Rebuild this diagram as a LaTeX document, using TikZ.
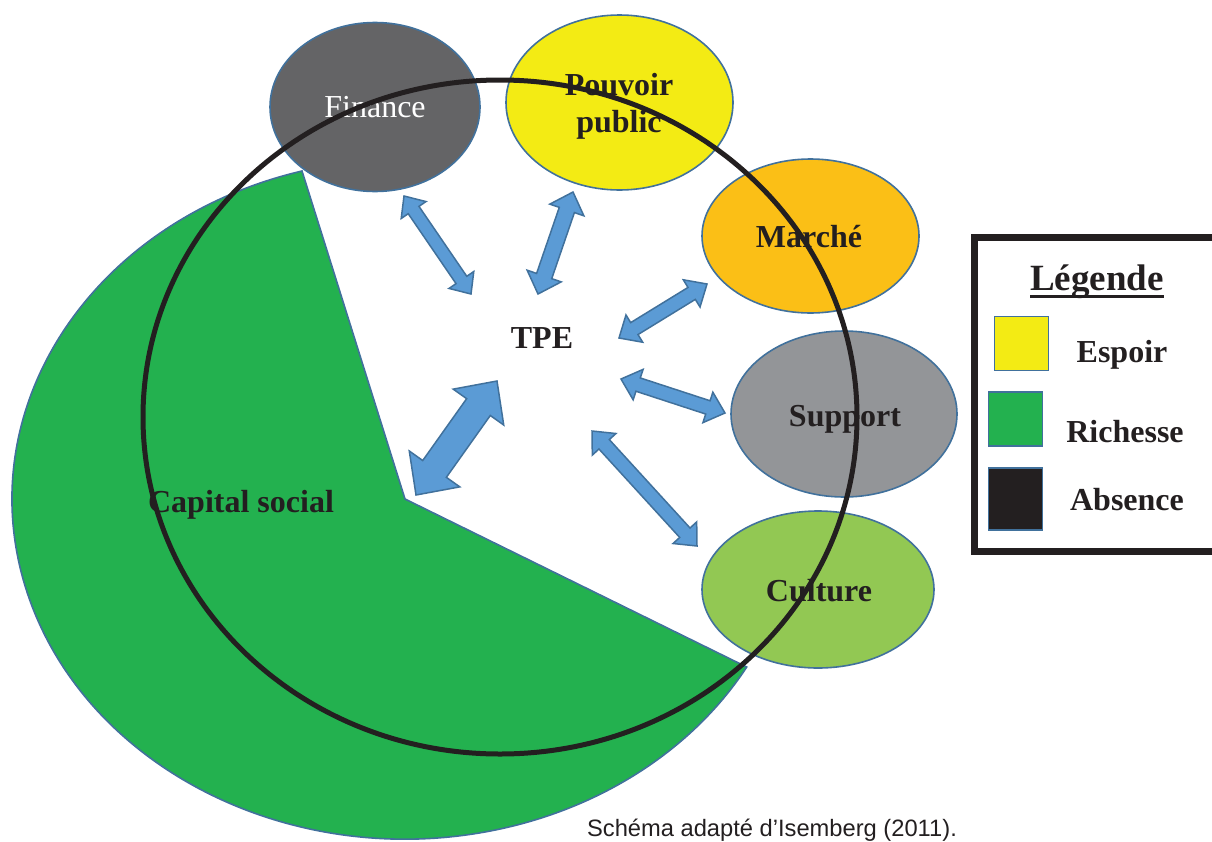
\documentclass[tikz,border=0pt]{standalone}
\usepackage{fontspec}
\setmainfont{Liberation Serif}
\newfontfamily\arialfont{Liberation Sans}
\usetikzlibrary{shapes.geometric,calc}
\definecolor{edgeblue}{HTML}{41719C}
\definecolor{arrowblue}{HTML}{5B9BD5}
\definecolor{inkblack}{HTML}{231F20}
\definecolor{financegray}{HTML}{646466}
\definecolor{pouvoiryellow}{HTML}{F3EB14}
\definecolor{marcheorange}{HTML}{FBBF16}
\definecolor{supportgray}{HTML}{939598}
\definecolor{culturegreen}{HTML}{92C853}
\definecolor{capitalgreen}{HTML}{23B14F}
\tikzset{
  bubble/.style={ellipse, draw=edgeblue, line width=1.6pt, inner sep=0pt},
  lbl/.style={anchor=base, inner sep=0pt, text=inkblack, font=\fontsize{32}{35}\selectfont\bfseries, align=center},
  blockarrow/.style={fill=arrowblue, draw=edgeblue, line width=1.5pt, line join=miter},
  legsq/.style={draw=edgeblue, line width=1.6pt, inner sep=0pt, minimum width=54pt, minimum height=54pt},
}
\newcommand\blockarrow[5]{%
  \coordinate (ba-h1) at ($(#1)!#5!(#2)$);
  \coordinate (ba-h2) at ($(#2)!#5!(#1)$);
  \draw[blockarrow] (#1) -- ($(ba-h1)!#4!90:(#2)$) -- ($(ba-h1)!#3!90:(#2)$)
    -- ($(ba-h2)!#3!-90:(#1)$) -- ($(ba-h2)!#4!-90:(#1)$) -- (#2)
    -- ($(ba-h2)!#4!90:(#1)$) -- ($(ba-h2)!#3!90:(#1)$)
    -- ($(ba-h1)!#3!-90:(#2)$) -- ($(ba-h1)!#4!-90:(#2)$) -- cycle;
}
\begin{document}
\begin{tikzpicture}[x=1pt,y=-1pt]
\useasboundingbox (0,0) rectangle (1212,841);
% green sector (capital social)
\coordinate (cs-vertex) at (405,499);
\coordinate (cs-top) at (302,171);
\draw[fill=capitalgreen, draw=edgeblue, line width=1.6pt]
  (cs-vertex) -- (cs-top) arc[start angle=254.8, end angle=29.6, x radius=393, y radius=340] -- cycle;
% ellipses
\node[bubble, fill=financegray, minimum width=210pt, minimum height=169pt] (finance) at (375,107) {};
\node[bubble, fill=pouvoiryellow, minimum width=227pt, minimum height=175pt] (pouvoir) at (619.5,102.5) {};
\node[bubble, fill=marcheorange, minimum width=217pt, minimum height=154pt] (marche) at (810.5,236) {};
\node[bubble, fill=supportgray, minimum width=226pt, minimum height=166pt] (support) at (844,414) {};
\node[bubble, fill=culturegreen, minimum width=232pt, minimum height=157pt] (culture) at (818,589.5) {};
% arrows
\coordinate (fa1) at (404,196); \coordinate (fa2) at (471,294);
\coordinate (pa1) at (573,192); \coordinate (pa2) at (538,294);
\coordinate (ma1) at (707,284); \coordinate (ma2) at (619,338);
\coordinate (sa1) at (621,379); \coordinate (sa2) at (725,413);
\coordinate (ca1) at (592,431); \coordinate (ca2) at (697,546);
\coordinate (ka1) at (497,381); \coordinate (ka2) at (416,495);
\blockarrow{fa1}{fa2}{6.5pt}{15pt}{17pt}
\blockarrow{pa1}{pa2}{8pt}{18pt}{19pt}
\blockarrow{ma1}{ma2}{7pt}{16pt}{18pt}
\blockarrow{sa1}{sa2}{7pt}{16pt}{18pt}
\blockarrow{ca1}{ca2}{7pt}{16pt}{18pt}
\blockarrow{ka1}{ka2}{14.5pt}{31pt}{32pt}
% labels
\node[lbl, text=white, font=\fontsize{32}{35}\selectfont] (financet) at (375,117) {Finance};
\node[lbl, font=\fontsize{32}{37}\selectfont\bfseries] (pouvoirt) at (619,132) {Pouvoir\\public};
\node[lbl] (marchet) at (809,247) {Marché};
\node[lbl] (supportt) at (845,426) {Support};
\node[lbl] (culturet) at (819,601) {Culture};
\node[lbl] (tpe) at (542,348) {TPE};
\node[lbl] (capital) at (241,512) {Capital social};
% big black circle
\draw[inkblack, line width=5pt] (500,417) ellipse [x radius=357, y radius=337];
% legend
\draw[inkblack, line width=7pt] (974.5,237.5) rectangle (1240,551.5);
\node[lbl, font=\fontsize{37}{40}\selectfont\bfseries] (legt) at (1097,290) {Légende};
\draw[inkblack, line width=3pt] ([yshift=-6pt]legt.base west) -- ([yshift=-6pt]legt.base east);
\node[legsq, fill=pouvoiryellow] (lg1) at (1021.5,343.5) {};
\node[legsq, fill=capitalgreen] (lg2) at (1015.5,419) {};
\node[legsq, fill=inkblack, minimum height=62pt] (lg3) at (1015.5,499) {};
\node[lbl] (lt1) at (1122,362) {Espoir};
\node[lbl] (lt2) at (1125,442) {Richesse};
\node[lbl] (lt3) at (1127,510) {Absence};
% caption
\node[anchor=base, inner sep=0pt, text=inkblack, font=\arialfont\fontsize{23.7}{28}\selectfont] (caption) at (772,836) {Schéma adapté d’Isemberg (2011).};
\end{tikzpicture}
\end{document}
